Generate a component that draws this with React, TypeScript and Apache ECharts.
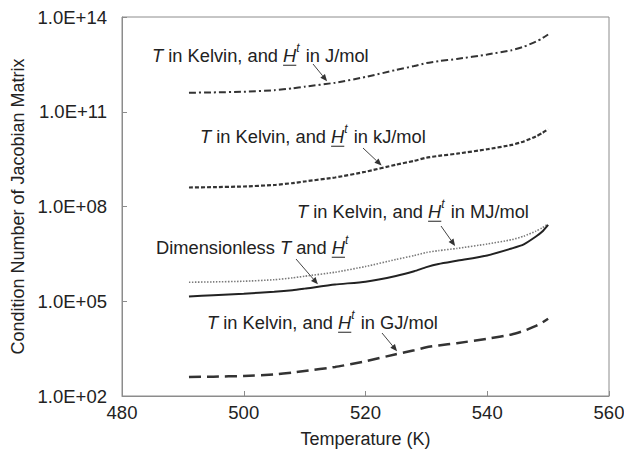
import { useEffect, useRef } from "react";
import * as echarts from "echarts";

// Temperature samples (K)
const temperature = [491, 495, 500, 505, 508, 510, 515, 520, 525, 528, 530, 532, 535, 540, 544, 546, 548, 549, 550];

// Condition number of the Jacobian for each choice of units
const condJmol = [4.0e11, 4.1e11, 4.3e11, 4.8e11, 5.5e11, 6.2e11, 8.3e11, 1.26e12, 2.1e12, 2.8e12, 3.5e12, 4.0e12, 4.7e12, 6.5e12, 8.9e12, 1.15e13, 1.66e13, 2.1e13, 2.8e13];
const condKJmol = [4.0e8, 4.1e8, 4.3e8, 4.8e8, 5.5e8, 6.2e8, 8.3e8, 1.26e9, 2.1e9, 2.8e9, 3.5e9, 4.0e9, 4.7e9, 6.5e9, 8.9e9, 1.15e10, 1.66e10, 2.1e10, 2.8e10];
const condMJmol = [4.0e5, 4.1e5, 4.3e5, 4.8e5, 5.5e5, 6.2e5, 8.3e5, 1.26e6, 2.1e6, 2.8e6, 3.5e6, 4.0e6, 4.7e6, 6.5e6, 8.9e6, 1.15e7, 1.66e7, 2.1e7, 2.8e7];
const condGJmol = [4.0e2, 4.1e2, 4.3e2, 4.8e2, 5.5e2, 6.2e2, 8.3e2, 1.26e3, 2.1e3, 2.8e3, 3.5e3, 4.0e3, 4.7e3, 6.5e3, 8.9e3, 1.15e4, 1.66e4, 2.1e4, 2.8e4];
const condDimensionless = [1.41e5, 1.55e5, 1.74e5, 2.0e5, 2.24e5, 2.51e5, 3.39e5, 4.17e5, 6.3e5, 8.9e5, 1.2e6, 1.51e6, 1.91e6, 2.82e6, 4.68e6, 6.3e6, 1.12e7, 1.58e7, 2.63e7];

// Axis ticks
const xTicks = { min: 480, max: 560, step: 20 };
const yTicks = { min: 1e2, max: 1e14, stepDecades: 3 };

const FONT = '"Liberation Sans", Arial, sans-serif';
const INK = "#222";
const FRAME = "#8c8c8c";
const TICK_FONT = 18.5;
const NOTE_FONT = 18.3;
const TITLE_FONT = 18;

type Part = { t: string; k: "n" | "i" | "u" | "s" };

const unitLabel = (unit: string): Part[] => [
  { t: "T", k: "i" },
  { t: " in Kelvin, and ", k: "n" },
  { t: "H", k: "u" },
  { t: "t", k: "s" },
  { t: ` in ${unit}`, k: "n" },
];

const dimLabel: Part[] = [
  { t: "Dimensionless ", k: "n" },
  { t: "T", k: "i" },
  { t: " and ", k: "n" },
  { t: "H", k: "u" },
  { t: "t", k: "s" },
];

const ctx2d = document.createElement("canvas").getContext("2d")!;
const measure = (text: string, font: string) => {
  ctx2d.font = font;
  return ctx2d.measureText(text).width;
};

function buildLabel(parts: Part[], x: number, y: number, size: number): any[] {
  const els: any[] = [];
  let cx = x;
  for (const p of parts) {
    const italic = p.k !== "n";
    const fs = p.k === "s" ? Math.round(size * 0.68) : size;
    const font = `${italic ? "italic " : ""}${fs}px ${FONT}`;
    const w = measure(p.t, font);
    els.push({
      type: "text",
      x: cx,
      y: p.k === "s" ? y - size * 0.38 : y,
      style: {
        text: p.t,
        fontSize: fs,
        fontFamily: FONT,
        fontStyle: italic ? "italic" : "normal",
        fill: INK,
        verticalAlign: "middle",
        align: "left",
      },
    });
    if (p.k === "u") {
      els.push({
        type: "line",
        shape: { x1: cx, y1: y + size * 0.56, x2: cx + w, y2: y + size * 0.56 },
        style: { stroke: INK, lineWidth: 1 },
      });
    }
    cx += w + (p.k === "s" ? 1 : 0);
  }
  return els;
}

// value of a series at temperature t, interpolated in log space
function valueAt(series: number[], t: number) {
  for (let i = 0; i < temperature.length - 1; i++) {
    const a = temperature[i];
    const b = temperature[i + 1];
    if (t >= a && t <= b) {
      const f = (t - a) / (b - a);
      const la = Math.log10(series[i]);
      const lb = Math.log10(series[i + 1]);
      return Math.pow(10, la + f * (lb - la));
    }
  }
  return series[series.length - 1];
}

function arrow(from: number[], to: number[]): any[] {
  const dx = to[0] - from[0];
  const dy = to[1] - from[1];
  const len = Math.hypot(dx, dy);
  const ux = dx / len;
  const uy = dy / len;
  const tip = [to[0] - ux * 3, to[1] - uy * 3];
  const hl = 7;
  const hw = 3;
  const base = [tip[0] - ux * hl, tip[1] - uy * hl];
  return [
    {
      type: "line",
      shape: { x1: from[0], y1: from[1], x2: base[0], y2: base[1] },
      style: { stroke: "#444", lineWidth: 1 },
    },
    {
      type: "polygon",
      shape: {
        points: [
          tip,
          [base[0] - uy * hw, base[1] + ux * hw],
          [base[0] + uy * hw, base[1] - ux * hw],
        ],
      },
      style: { fill: "#333" },
    },
  ];
}

const pairs = (vals: number[]) => temperature.map((t, i) => [t, vals[i]]);

export default function App() {
  const ref = useRef<HTMLDivElement>(null);

  useEffect(() => {
    if (!ref.current) return;
    const chart = echarts.init(ref.current, null, { renderer: "svg" });

    const baseSeries = (name: string, data: number[], lineStyle: any) => ({
      name,
      type: "line",
      data: pairs(data),
      showSymbol: false,
      symbol: "none",
      smooth: 0.2,
      lineStyle,
      z: 3,
    });

    chart.setOption({
      animation: false,
      backgroundColor: "#ffffff",
      textStyle: { fontFamily: FONT },
      grid: {
        left: 122,
        right: 15,
        top: 17,
        bottom: 58,
        show: true,
        borderColor: FRAME,
        borderWidth: 1,
        backgroundColor: "transparent",
        outerBoundsMode: "none",
      },
      xAxis: {
        type: "value",
        min: xTicks.min,
        max: xTicks.max,
        interval: xTicks.step,
        name: "Temperature (K)",
        nameLocation: "middle",
        nameGap: 34,
        nameTextStyle: { fontSize: TITLE_FONT, color: INK, fontFamily: FONT },
        axisLine: { show: true, lineStyle: { color: FRAME, width: 1 } },
        axisTick: { show: true, inside: true, length: 5, lineStyle: { color: FRAME } },
        axisLabel: { fontSize: TICK_FONT, color: INK, margin: 7, fontFamily: FONT },
        splitLine: { show: false },
      },
      yAxis: {
        type: "log",
        logBase: 10,
        min: yTicks.min,
        max: yTicks.max,
        interval: yTicks.stepDecades,
        name: "Condition Number of Jacobian Matrix",
        nameLocation: "middle",
        nameGap: 93,
        nameTextStyle: { fontSize: TITLE_FONT, color: INK, fontFamily: FONT },
        axisLine: { show: true, lineStyle: { color: FRAME, width: 1 } },
        axisTick: { show: true, inside: true, length: 5, lineStyle: { color: FRAME } },
        axisLabel: {
          fontSize: TICK_FONT,
          color: INK,
          margin: 15,
          fontFamily: FONT,
          formatter: (v: number) => {
            const e = Math.round(Math.log10(v));
            return `1.0E+${e < 10 ? "0" + e : e}`;
          },
        },
        splitLine: { show: false },
      },
      series: [
        baseSeries("J/mol", condJmol, { color: "#333", width: 2, type: [7, 3, 2, 3] }),
        baseSeries("kJ/mol", condKJmol, { color: "#333", width: 2.2, type: [4, 2] }),
        baseSeries("MJ/mol", condMJmol, { color: "#7a7a7a", width: 1.6, type: [1.5, 1.5] }),
        baseSeries("Dimensionless", condDimensionless, { color: "#222", width: 2, type: "solid" }),
        baseSeries("GJ/mol", condGJmol, { color: "#333", width: 2.5, type: [12, 6] }),
      ],
    });

    const px = (t: number, v: number) => chart.convertToPixel({ gridIndex: 0 }, [t, v]) as number[];

    const annotations = [
      { parts: unitLabel("J/mol"), at: [152, 55], from: [313, 64], series: condJmol, t: 514 },
      { parts: unitLabel("kJ/mol"), at: [200, 136], from: [363, 148], series: condKJmol, t: 523 },
      { parts: unitLabel("MJ/mol"), at: [297, 211], from: [441, 226], series: condMJmol, t: 535 },
      { parts: dimLabel, at: [156, 247], from: [296, 259], series: condDimensionless, t: 512.5 },
      { parts: unitLabel("GJ/mol"), at: [207, 322], from: [382, 333], series: condGJmol, t: 525.5 },
    ];

    const elements: any[] = [];
    for (const a of annotations) {
      elements.push(...buildLabel(a.parts, a.at[0], a.at[1], NOTE_FONT));
      elements.push(...arrow(a.from, px(a.t, valueAt(a.series, a.t))));
    }

    chart.setOption({ graphic: { elements } });

    return () => chart.dispose();
  }, []);

  return (
    <div
      ref={ref}
      style={{ position: "absolute", left: 0, top: 0, width: 624, height: 454 }}
    />
  );
}
